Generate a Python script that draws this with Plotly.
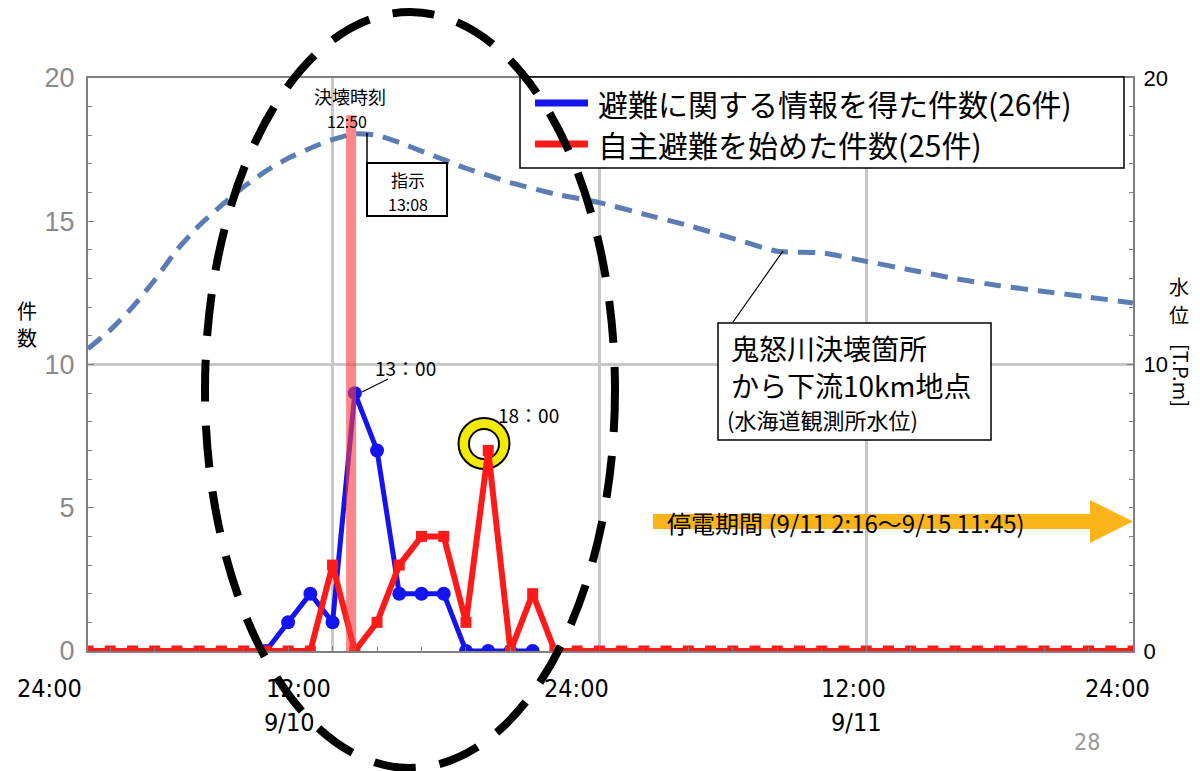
import plotly.graph_objects as go

# ---------------- data ----------------
hours = list(range(1, 49))  # hours since 9/10 0:00 (hourly points)

# 避難に関する情報を得た件数 (total 26), plotted from 9:00 to 21:00
info_counts = [None, None, None, None, None, None, None, None, 0, 1,
               2, 1, 9, 7, 2, 2, 2, 0, 0, 0,
               0, None, None, None, None, None, None, None, None, None,
               None, None, None, None, None, None, None, None, None, None,
               None, None, None, None, None, None, None, None]

# 自主避難を始めた件数 (total 25)
evac_counts = [0, 0, 0, 0, 0, 0, 0, 0, 0, 0,
               0, 3, 0, 1, 3, 4, 4, 1, 7, 0,
               2, 0, 0, 0, 0, 0, 0, 0, 0, 0,
               0, 0, 0, 0, 0, 0, 0, 0, 0, 0,
               0, 0, 0, 0, 0, 0, 0, 0]

# 水海道観測所水位 [T.P.m]
wl_hours = [1, 2, 3, 4, 5, 6, 7, 8, 9, 10, 11, 12, 13, 14, 15, 16, 17, 18, 19, 20,
            22, 24, 26, 28, 30, 32, 34, 36, 38, 40, 42, 44, 46, 48]
wl_levels = [10.55, 11.2, 12.0, 12.95, 14.0, 14.85, 15.55, 16.2, 16.75, 17.2,
             17.55, 17.85, 18.05, 18.0, 17.75, 17.45, 17.15, 16.85, 16.6, 16.35,
             15.95, 15.65, 15.25, 14.85, 14.4, 13.95, 13.9, 13.6, 13.3, 13.0,
             12.75, 12.55, 12.35, 12.15]

break_time = 12 + 50 / 60   # 決壊時刻 12:50
break_bar_top = 18.7

x_tick_labels = ["24:00", "12:00", "24:00", "12:00", "24:00"]
x_tick_px = [49, 298, 576, 853, 1117]
date_labels = ["9/10", "9/11"]
date_px = [289, 856]

legend_labels = ["避難に関する情報を得た件数(26件)", "自主避難を始めた件数(25件)"]

# ---------------- layout helpers (pixel -> paper) ----------------
L, R, T, B = 88, 1133, 78, 651
W, H = 1200, 771


def X(px):
    return (px - L) / (R - L)


def Y(py):
    return (B - py) / (B - T)


BLUE = "#1414f0"
RED = "#ff1a1a"
WL = "#5b7db3"
CJK = "Noto Sans CJK JP, Noto Sans, sans-serif"
NARROW = "Liberation Sans Narrow, DejaVu Sans Condensed, Liberation Sans, Arial, sans-serif"

fig = go.Figure()

fig.add_trace(go.Scatter(
    x=wl_hours, y=wl_levels, yaxis="y2", mode="lines",
    line=dict(color=WL, width=5, dash="17px,10px", shape="spline", smoothing=0.5),
    showlegend=False, hoverinfo="skip"))

fig.add_trace(go.Scatter(
    x=hours, y=info_counts, mode="lines+markers",
    line=dict(color=BLUE, width=5),
    marker=dict(symbol="circle", size=14, color=BLUE),
    connectgaps=False, showlegend=False))

fig.add_trace(go.Scatter(
    x=hours, y=evac_counts, mode="lines+markers",
    line=dict(color=RED, width=6),
    marker=dict(symbol="square", size=11, color=RED),
    showlegend=False))

shapes = []

# yellow ring around the 18:00 peak (below traces)
shapes.append(dict(type="circle", xref="paper", yref="paper", layer="below",
                   x0=X(458.5), x1=X(509.5), y0=Y(469), y1=Y(418),
                   fillcolor="#f2ea00", line=dict(color="black", width=2)))
shapes.append(dict(type="circle", xref="paper", yref="paper", layer="below",
                   x0=X(469), x1=X(499), y0=Y(459), y1=Y(429),
                   fillcolor="white", line=dict(color="black", width=2)))

# 決壊時刻 bar
shapes.append(dict(type="line", xref="x", yref="y", layer="above",
                   x0=break_time, x1=break_time, y0=0, y1=break_bar_top,
                   line=dict(color="rgba(255,60,60,0.62)", width=10)))

# 指示 box and leader
shapes.append(dict(type="line", xref="paper", yref="paper",
                   x0=X(367), x1=X(367), y0=Y(133), y1=Y(163),
                   line=dict(color="black", width=1.5)))
shapes.append(dict(type="rect", xref="paper", yref="paper",
                   x0=X(367), x1=X(447), y0=Y(216), y1=Y(163),
                   fillcolor="white", line=dict(color="black", width=2)))

# 13:00 leader
shapes.append(dict(type="line", xref="paper", yref="paper",
                   x0=X(388), x1=X(362), y0=Y(379), y1=Y(392),
                   line=dict(color="black", width=1.2)))

# water level callout
shapes.append(dict(type="line", xref="paper", yref="paper",
                   x0=X(733), x1=X(783), y0=Y(322), y1=Y(251),
                   line=dict(color="black", width=1.2)))
shapes.append(dict(type="rect", xref="paper", yref="paper",
                   x0=X(718), x1=X(991), y0=Y(440), y1=Y(323),
                   fillcolor="white", line=dict(color="black", width=1.5)))

# orange arrow (停電期間)
pts = [(653, 514), (1090, 514), (1090, 500), (1133, 521.5), (1090, 543), (1090, 529), (653, 529)]
path = "M " + " L ".join(f"{X(a):.5f},{Y(b):.5f}" for a, b in pts) + " Z"
shapes.append(dict(type="path", xref="paper", yref="paper", path=path,
                   fillcolor="#fbb41a", line=dict(width=0)))

# legend box
shapes.append(dict(type="rect", xref="paper", yref="paper",
                   x0=X(520), x1=X(1124), y0=Y(168), y1=Y(77),
                   fillcolor="white", line=dict(color="black", width=1.5)))
shapes.append(dict(type="line", xref="paper", yref="paper",
                   x0=X(535), x1=X(588), y0=Y(103), y1=Y(103),
                   line=dict(color=BLUE, width=7)))
shapes.append(dict(type="line", xref="paper", yref="paper",
                   x0=X(535), x1=X(588), y0=Y(144), y1=Y(144),
                   line=dict(color=RED, width=7)))

# big dashed ellipse
shapes.append(dict(type="circle", xref="paper", yref="paper",
                   x0=X(205), x1=X(615), y0=Y(768), y1=Y(12),
                   line=dict(color="black", width=8, dash="42px,24px")))

annotations = []


def txt(text, px, py, size, color="black", family=CJK, xanchor="center", angle=0):
    annotations.append(dict(text=text, x=X(px), y=Y(py), xref="paper", yref="paper",
                            showarrow=False, xanchor=xanchor, yanchor="middle",
                            textangle=angle, borderpad=0,
                            font=dict(size=size, color=color, family=family)))


for lab, p in zip(x_tick_labels, x_tick_px):
    txt(lab, p, 688, 25, family=NARROW)
for lab, p in zip(date_labels, date_px):
    txt(lab, p, 722, 25, family=NARROW)

txt(legend_labels[0], 597, 103, 30, xanchor="left")
txt(legend_labels[1], 597, 144, 30, xanchor="left")

txt("決壊時刻", 350, 96, 18)
txt("12:50", 347, 121, 16)
txt("指示", 408, 179, 17)
txt("13:08", 408, 204, 16)
txt("13：00", 405, 367, 19)
txt("18：00", 528, 414, 19)

txt("鬼怒川決壊箇所", 730, 348, 28, xanchor="left")
txt("から下流10km地点", 730, 385, 28, xanchor="left")
txt("(水海道観測所水位)", 726, 419, 22, xanchor="left")

txt("停電期間 (9/11 2:16〜9/15 11:45)", 666, 522, 24, xanchor="left")

txt("件", 27, 310, 20)
txt("数", 27, 337, 20)
txt("水", 1179, 286, 20)
txt("位", 1179, 314, 20)
txt("[T.P.m]", 1181, 375, 20, angle=90)

txt("28", 1087, 742, 23, color="#9a9a9a", family=NARROW)

fig.update_layout(
    width=W, height=H,
    margin=dict(l=L, r=W - R, t=T, b=H - B, pad=0),
    paper_bgcolor="white", plot_bgcolor="white",
    showlegend=False,
    shapes=shapes, annotations=annotations,
    xaxis=dict(range=[1, 48], tickmode="array", tickvals=[12, 24, 36],
               showticklabels=False, showgrid=True, gridcolor="#c8c8c8", gridwidth=3,
               zeroline=False, showline=True, linecolor="#808080", linewidth=2,
               mirror=True, ticks="inside", ticklen=5, tickcolor="#808080",
               minor=dict(tickmode="linear", tick0=0, dtick=2, ticks="inside",
                          ticklen=4, tickcolor="#808080", showgrid=False)),
    yaxis=dict(range=[0, 20], tickmode="array", tickvals=[0, 5, 10, 15, 20],
               showgrid=False, zeroline=False, showline=True, linecolor="#808080",
               linewidth=2, mirror=True, ticks="inside", ticklen=6, tickcolor="#808080",
               tickfont=dict(size=27, color="#8a8a8a", family="Liberation Sans, Arial, sans-serif"),
               ticklabelstandoff=6,
               minor=dict(tickmode="linear", tick0=0, dtick=1, ticks="inside",
                          ticklen=4, tickcolor="#808080", showgrid=False)),
    yaxis2=dict(range=[0, 20], overlaying="y", side="right", tickmode="array",
                tickvals=[0, 10, 20], showgrid=True, gridcolor="#c8c8c8", gridwidth=3,
                zeroline=False, showline=True, linecolor="#808080", linewidth=2,
                ticks="inside", ticklen=6, tickcolor="#808080",
                tickfont=dict(size=22, color="black", family="Liberation Sans, Arial, sans-serif"),
                ticklabelstandoff=4,
                minor=dict(tickmode="linear", tick0=0, dtick=1, ticks="inside",
                           ticklen=4, tickcolor="#808080", showgrid=False)),
)

fig.write_html("out.html", config={"displayModeBar": False},
               post_script="document.body.style.margin='0px';document.body.style.overflow='hidden';")
